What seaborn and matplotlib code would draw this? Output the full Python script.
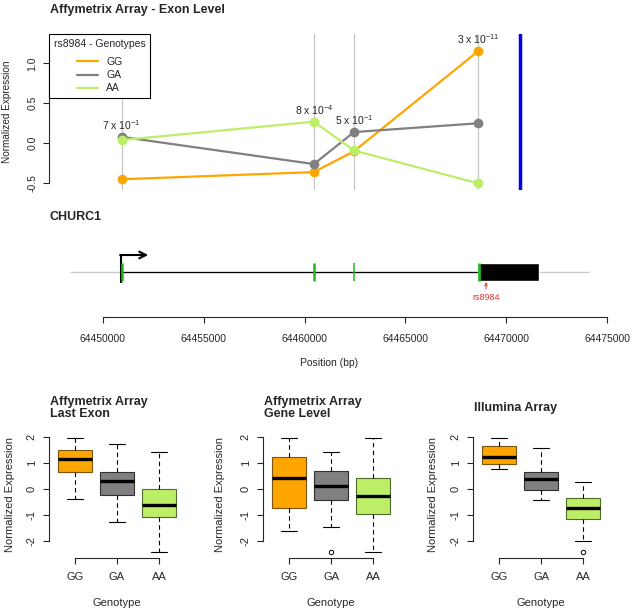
import numpy as np
import pandas as pd
import matplotlib
matplotlib.use("Agg")
import matplotlib.pyplot as plt
import seaborn as sns
from matplotlib.lines import Line2D

# ---------------- data ----------------
genotypes = ["GG", "GA", "AA"]
genotype_colors = ["#FFA500", "#808080", "#BCEE68"]
box_edge_colors = ["#7A5410", "#303030", "#4F6B2A"]

# exon-level panel
exon_positions = [64450928, 64460466, 64462450, 64468600]
exon_expr_GG = [-0.45, -0.36, -0.10, 1.15]
exon_expr_GA = [0.08, -0.26, 0.14, 0.25]
exon_expr_AA = [0.04, 0.27, -0.09, -0.50]
exon_pvalues = ["7 x $10^{-1}$", "8 x $10^{-4}$", "5 x $10^{-1}$", "3 x $10^{-11}$"]
marker_position = 64470685

# gene model panel
gene_name = "CHURC1"
snp_name = "rs8984"
snp_position = 64468997
region_start, region_end = 64448363, 64474107
transcript_start, transcript_end = 64450878, 64468600
utr_start, utr_end = 64468600, 64471627
tss_arrow_end = 64452250
probe_positions = [64450928, 64460466, 64462450, 64468630]
position_ticks = [64450000, 64455000, 64460000, 64465000, 64470000, 64475000]
xlim_bp = (64447333, 64475143)

# box plot panels: [lower whisker, Q1, median, Q3, upper whisker] for GG, GA, AA
box_titles = ["Affymetrix Array\nLast Exon", "Affymetrix Array\nGene Level", "Illumina Array"]
last_exon_stats = [[-0.38, 0.65, 1.16, 1.51, 1.96],
                   [-1.27, -0.23, 0.29, 0.64, 1.73],
                   [-2.43, -1.09, -0.60, 0.00, 1.44]]
last_exon_outliers = [[], [], []]
gene_level_stats = [[-1.60, -0.75, 0.41, 1.23, 1.96],
                    [-1.46, -0.41, 0.13, 0.68, 1.44],
                    [-2.42, -0.95, -0.26, 0.42, 1.96]]
gene_level_outliers = [[], [-2.42], []]
illumina_stats = [[0.77, 0.96, 1.24, 1.64, 1.96],
                  [-0.43, -0.03, 0.38, 0.64, 1.56],
                  [-2.00, -1.17, -0.73, -0.36, 0.28]]
illumina_outliers = [[], [], [-2.42]]

# ---------------- style ----------------
sns.set_theme(style="white")
plt.rcParams["font.family"] = ["Liberation Sans", "DejaVu Sans"]
plt.rcParams["mathtext.fontset"] = "custom"
plt.rcParams["mathtext.rm"] = "Liberation Sans"
plt.rcParams["mathtext.it"] = "Liberation Sans:italic"
plt.rcParams["mathtext.bf"] = "Liberation Sans:bold"
plt.rcParams["mathtext.default"] = "regular"
plt.rcParams["axes.linewidth"] = 0.8

W, H = 632, 612
fig = plt.figure(figsize=(W / 100, H / 100), dpi=100)


def px_axes(x0, y0, x1, y1):
    return fig.add_axes([x0 / W, 1 - y1 / H, (x1 - x0) / W, (y1 - y0) / H])


FS = 7.5
FS_TOP = 7.2
FS_BOX = 8.0
TICK_LEN = 4.3

# ---------------- top: exon level ----------------
ax = px_axes(49, 34, 610, 190)
ax.set_xlim(*xlim_bp)
ax.set_ylim(-0.584, 1.366)
for p in exon_positions:
    ax.axvline(p, color="#C8C8C8", lw=0.9, zorder=0)
ax.axvline(marker_position, color="#0000EE", lw=2.5, zorder=1)

exon_df = pd.DataFrame({
    "pos": exon_positions * 3,
    "expr": exon_expr_GG + exon_expr_GA + exon_expr_AA,
    "genotype": ["GG"] * 4 + ["GA"] * 4 + ["AA"] * 4,
})
sns.lineplot(data=exon_df, x="pos", y="expr", hue="genotype", hue_order=genotypes,
             palette=genotype_colors, marker="o", markersize=7, markeredgewidth=0,
             linewidth=1.6, estimator=None, legend=False, ax=ax, zorder=3)

top_vals = np.max([exon_expr_GG, exon_expr_GA, exon_expr_AA], axis=0)
for p, v, lab in zip(exon_positions, top_vals, exon_pvalues):
    ax.annotate(lab, xy=(p, v), xytext=(0, 5), textcoords="offset points",
                ha="center", va="baseline", fontsize=7.5)

for s in ["top", "right", "bottom"]:
    ax.spines[s].set_visible(False)
ax.spines["left"].set_bounds(-0.5, 1.0)
ax.set_xticks([])
ax.set_yticks([-0.5, 0.0, 0.5, 1.0])
ax.set_yticklabels(["-0.5", "0.0", "0.5", "1.0"])
ax.tick_params(axis="y", length=TICK_LEN, width=0.8, direction="out", labelsize=FS, pad=4, left=True)
for lbl in ax.get_yticklabels():
    lbl.set_rotation(90)
    lbl.set_va("center")
ax.set_xlabel("")
ax.set_ylabel("Normalized Expression", fontsize=FS_TOP, va="center")
ax.yaxis.set_label_coords((7 - 49) / 561, 0.5)

handles = [Line2D([0], [0], color=c, lw=1.6) for c in genotype_colors]
leg = ax.legend(handles, genotypes, title="rs8984 - Genotypes", loc="upper left",
                bbox_to_anchor=(0, 1), borderaxespad=0, frameon=True, fancybox=False,
                edgecolor="black", framealpha=1, fontsize=FS, title_fontsize=FS,
                handlelength=2.0, handletextpad=0.8, labelspacing=0.3, borderpad=0.45,
                alignment="center")
leg._legend_box.sep = 6
leg.get_frame().set_linewidth(0.8)
leg.set_zorder(10)

fig.text(50 / W, 1 - 10 / H, "Affymetrix Array - Exon Level", fontsize=9,
         fontweight="bold", ha="left", va="center")

# ---------------- gene model ----------------
ag = px_axes(49, 225, 610, 317)
ag.set_xlim(*xlim_bp)
ag.set_ylim(-45, 47)
ag.hlines(0, region_start, region_end, color="#C8C8C8", lw=1.0, zorder=1)
ag.hlines(0, transcript_start, transcript_end, color="black", lw=0.9, zorder=2)
ag.broken_barh([(utr_start, utr_end - utr_start)], (-9, 18), facecolors="black", zorder=3)
ag.vlines(probe_positions, -9, 9, colors="#22B822", linewidths=[1.8, 1.8, 1.1, 2.0], zorder=4)
ag.vlines([transcript_start], -10.5, 17, colors="black", linewidths=1.5, zorder=3)
ag.annotate("", xy=(tss_arrow_end, 17), xytext=(transcript_start - 20, 17),
            arrowprops=dict(arrowstyle="->", lw=1.5, color="black",
                            mutation_scale=12, shrinkA=0, shrinkB=0))
ag.annotate("", xy=(snp_position, -10), xytext=(snp_position, -17),
            arrowprops=dict(arrowstyle="->", lw=0.7, color="#E03535",
                            mutation_scale=5, shrinkA=0, shrinkB=0))
ag.text(snp_position, -26, snp_name, color="#E03535", fontsize=6.5, ha="center", va="center")

for s in ["top", "right", "left"]:
    ag.spines[s].set_visible(False)
ag.spines["bottom"].set_bounds(position_ticks[0], position_ticks[-1])
ag.set_yticks([])
ag.set_xticks(position_ticks)
ag.set_xticklabels([str(t) for t in position_ticks])
ag.tick_params(axis="x", length=TICK_LEN, width=0.8, direction="out", labelsize=FS, pad=8, bottom=True)
ag.set_xlabel("Position (bp)", fontsize=FS, va="center")
ag.xaxis.set_label_coords(0.5, (317 - 363) / 92)

fig.text(49 / W, 1 - 217 / H, gene_name, fontsize=9, fontweight="bold", ha="left", va="center")

# ---------------- box plots ----------------
def expand(stats, outliers):
    low, q1, med, q3, high = stats
    base = [low, low, q1, q1, med, q3, q3, high, high]
    if outliers:
        base = list(outliers) + base[1:]
    return base


panels = [
    (49, last_exon_stats, last_exon_outliers, box_titles[0], 10),
    (263, gene_level_stats, gene_level_outliers, box_titles[1], 220),
    (473, illumina_stats, illumina_outliers, box_titles[2], 433),
]
for left, stats, outs, title, ylab_x in panels:
    axb = px_axes(left, 432, left + 136, 558)
    vals, gts = [], []
    for g, st, o in zip(genotypes, stats, outs):
        v = expand(st, o)
        vals += v
        gts += [g] * len(v)
    df = pd.DataFrame({"Genotype": gts, "value": vals})
    sns.boxplot(data=df, x="Genotype", y="value", hue="Genotype", order=genotypes,
                hue_order=genotypes, palette=genotype_colors, saturation=1, width=0.8,
                whis=1.5, linewidth=0.8, legend=False, ax=axb,
                medianprops=dict(color="black", linewidth=2.4),
                whiskerprops=dict(color="black", linestyle=(0, (4, 3)), linewidth=0.8),
                capprops=dict(color="black", linewidth=0.8),
                flierprops=dict(marker="o", markersize=3.2, markerfacecolor="none",
                                markeredgecolor="black", markeredgewidth=0.7))
    for patch, ec in zip(axb.patches, box_edge_colors):
        patch.set_edgecolor(ec)
    axb.set_xlim(-0.62, 2.62)
    axb.set_ylim(-2.654, 2.19)
    for s in ["top", "right"]:
        axb.spines[s].set_visible(False)
    axb.spines["left"].set_bounds(-2, 2)
    axb.spines["bottom"].set_bounds(0, 2)
    axb.set_yticks([-2, -1, 0, 1, 2])
    axb.set_yticklabels(["-2", "-1", "0", "1", "2"])
    axb.tick_params(axis="both", length=TICK_LEN, width=0.8, direction="out", labelsize=FS_BOX,
                    left=True, bottom=True)
    axb.tick_params(axis="y", pad=4.5)
    axb.tick_params(axis="x", pad=5.5)
    for lbl in axb.get_yticklabels():
        lbl.set_rotation(90)
        lbl.set_va("center")
    axb.set_ylabel("Normalized Expression", fontsize=FS_BOX, va="center")
    axb.yaxis.set_label_coords((ylab_x - left) / 136, 0.5)
    axb.set_xlabel("Genotype", fontsize=FS_BOX, va="center")
    axb.xaxis.set_label_coords(0.5, (558 - 603) / 126)
    fig.text((left + 1) / W, 1 - 408 / H, title, fontsize=9, fontweight="bold",
             ha="left", va="center", linespacing=1.1)

fig.savefig("out.png", dpi=100)
